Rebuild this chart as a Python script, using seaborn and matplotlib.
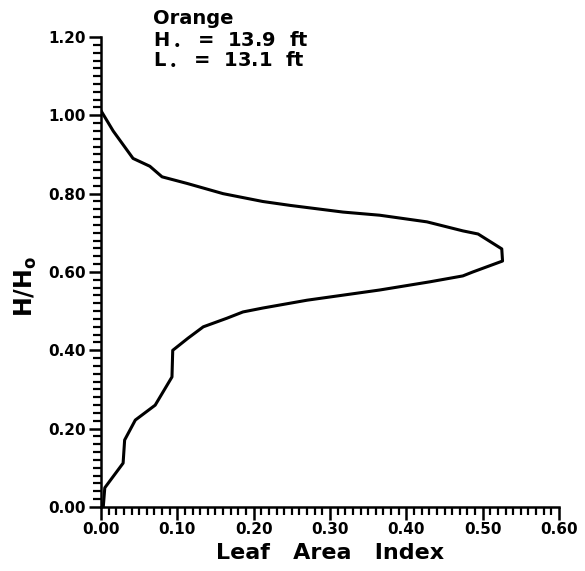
import matplotlib
matplotlib.use("Agg")
import matplotlib.pyplot as plt
from matplotlib.ticker import MultipleLocator, FormatStrFormatter
import seaborn as sns
import pandas as pd

# Leaf area index profile, bottom to top
lai = [0.003, 0.005, 0.029, 0.031, 0.045, 0.071, 0.093, 0.094, 0.114, 0.134,
       0.165, 0.186, 0.212, 0.270, 0.365, 0.431, 0.474, 0.487, 0.526, 0.525,
       0.494, 0.474, 0.427, 0.365, 0.317, 0.248, 0.212, 0.160, 0.113, 0.080,
       0.064, 0.042, 0.016, 0.000]
height_ratio = [0.000, 0.049, 0.112, 0.171, 0.222, 0.260, 0.332, 0.400, 0.431, 0.460,
                0.482, 0.498, 0.508, 0.528, 0.554, 0.575, 0.590, 0.600, 0.628, 0.659,
                0.697, 0.705, 0.728, 0.745, 0.753, 0.770, 0.780, 0.800, 0.826, 0.843,
                0.870, 0.890, 0.960, 1.012]
x_ticks = [0.00, 0.10, 0.20, 0.30, 0.40, 0.50, 0.60]
y_ticks = [0.00, 0.20, 0.40, 0.60, 0.80, 1.00, 1.20]
annotation = ["Orange", "H$_\\bullet$  =  13.9  ft", "L$_\\bullet$  =  13.1  ft"]

df = pd.DataFrame({"lai": lai, "h": height_ratio})

sns.set_style("ticks")
plt.rcParams["font.family"] = ["DejaVu Sans"]
plt.rcParams["text.color"] = "black"
plt.rcParams["axes.labelcolor"] = "black"

fig = plt.figure(figsize=(5.85, 5.71), dpi=100)
ax = fig.add_axes([0.1726, 0.1121, 0.783, 0.8231])

sns.lineplot(data=df, x="lai", y="h", sort=False, estimator=None,
             color="black", linewidth=2.2, ax=ax)

ax.set_xlim(0, 0.6)
ax.set_ylim(0, 1.2)
ax.set_xticks(x_ticks)
ax.set_yticks(y_ticks)
ax.xaxis.set_minor_locator(MultipleLocator(0.01))
ax.yaxis.set_minor_locator(MultipleLocator(0.02))
ax.xaxis.set_major_formatter(FormatStrFormatter("%.2f"))
ax.yaxis.set_major_formatter(FormatStrFormatter("%.2f"))

for s in ["top", "right"]:
    ax.spines[s].set_visible(False)
for s in ["left", "bottom"]:
    ax.spines[s].set_linewidth(1.8)
    ax.spines[s].set_color("black")

ax.tick_params(which="major", direction="out", length=9, width=1.8,
               labelsize=11, colors="black", pad=2)
ax.tick_params(which="minor", direction="out", length=6, width=1.6, colors="black")
for lab in ax.get_xticklabels() + ax.get_yticklabels():
    lab.set_fontweight("bold")

ax.set_xlabel("Leaf   Area   Index", fontsize=16, fontweight="bold", labelpad=4)
ax.set_ylabel("H/H$_\\mathbf{o}$", fontsize=17, fontweight="bold")
ax.yaxis.set_label_coords(-0.135, 0.47)

for i, line in enumerate(annotation):
    fig.text(0.262, 0.968 - i * 0.036, line, fontsize=14, fontweight="bold",
             ha="left", va="center")

fig.savefig("out.png", dpi=100, facecolor="white")
